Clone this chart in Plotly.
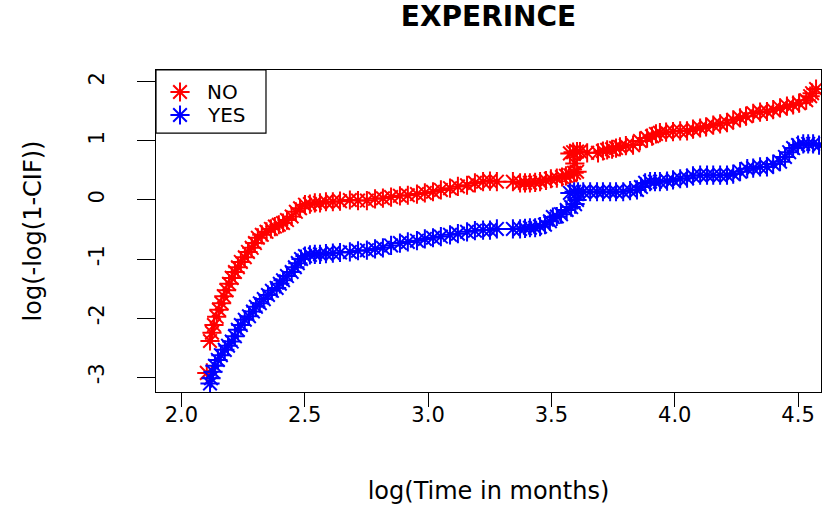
import plotly.graph_objects as go

# ---- data ----
no_x = [2.103, 2.116, 2.124, 2.132, 2.143, 2.152, 2.163, 2.172, 2.183, 2.193,
        2.204, 2.217, 2.229, 2.241, 2.257, 2.270, 2.285, 2.298, 2.310, 2.326,
        2.345, 2.363, 2.379, 2.395, 2.412, 2.428, 2.447, 2.464, 2.481, 2.501,
        2.521, 2.541, 2.562, 2.586, 2.614, 2.643, 2.683, 2.716, 2.752, 2.785,
        2.817, 2.850, 2.886, 2.918, 2.955, 2.987, 3.020, 3.052, 3.089, 3.121,
        3.158, 3.190, 3.223, 3.251, 3.279, 3.344, 3.373, 3.393, 3.413, 3.434,
        3.454, 3.478, 3.498, 3.522, 3.543, 3.559, 3.576, 3.592, 3.604, 3.595,
        3.575, 3.588, 3.604, 3.616, 3.645, 3.689, 3.709, 3.726, 3.746, 3.762,
        3.778, 3.802, 3.831, 3.859, 3.888, 3.908, 3.924, 3.940, 3.965, 3.993,
        4.022, 4.050, 4.074, 4.103, 4.127, 4.156, 4.184, 4.212, 4.237, 4.265,
        4.289, 4.318, 4.346, 4.374, 4.399, 4.427, 4.455, 4.480, 4.504, 4.533,
        4.549, 4.557, 4.573]
no_y = [-2.93, -2.39, -2.25, -2.12, -1.98, -1.86, -1.75, -1.63, -1.53, -1.42,
        -1.32, -1.22, -1.14, -1.05, -0.97, -0.88, -0.81, -0.73, -0.64, -0.59,
        -0.54, -0.49, -0.45, -0.42, -0.39, -0.34, -0.28, -0.20, -0.14, -0.08,
        -0.07, -0.05, -0.05, -0.03, -0.03, -0.02, 0.00, -0.01, -0.01, 0.02,
        0.03, 0.05, 0.07, 0.08, 0.10, 0.12, 0.14, 0.17, 0.20, 0.23,
        0.25, 0.29, 0.31, 0.32, 0.31, 0.31, 0.29, 0.29, 0.29, 0.30,
        0.31, 0.33, 0.36, 0.37, 0.39, 0.41, 0.42, 0.46, 0.48, 0.62,
        0.79, 0.81, 0.82, 0.82, 0.80, 0.80, 0.83, 0.85, 0.86, 0.88,
        0.90, 0.92, 0.93, 1.00, 1.05, 1.08, 1.12, 1.14, 1.15, 1.16,
        1.17, 1.17, 1.20, 1.22, 1.24, 1.27, 1.29, 1.31, 1.36, 1.39,
        1.42, 1.47, 1.49, 1.50, 1.53, 1.56, 1.59, 1.61, 1.64, 1.69,
        1.76, 1.81, 1.88]

yes_x = [2.116, 2.120, 2.128, 2.136, 2.148, 2.160, 2.176, 2.189, 2.204, 2.217,
         2.229, 2.241, 2.257, 2.274, 2.290, 2.302, 2.318, 2.334, 2.351, 2.367,
         2.386, 2.399, 2.412, 2.428, 2.447, 2.460, 2.472, 2.485, 2.501, 2.521,
         2.541, 2.562, 2.586, 2.614, 2.643, 2.683, 2.716, 2.752, 2.785, 2.817,
         2.850, 2.886, 2.918, 2.955, 2.987, 3.020, 3.052, 3.089, 3.121, 3.158,
         3.190, 3.223, 3.251, 3.279, 3.344, 3.373, 3.393, 3.413, 3.434, 3.454,
         3.474, 3.494, 3.506, 3.522, 3.539, 3.562, 3.580, 3.596, 3.604, 3.575,
         3.592, 3.608, 3.629, 3.657, 3.685, 3.709, 3.738, 3.762, 3.791, 3.819,
         3.847, 3.863, 3.880, 3.900, 3.920, 3.940, 3.969, 3.993, 4.022, 4.050,
         4.074, 4.103, 4.131, 4.156, 4.184, 4.212, 4.237, 4.265, 4.294, 4.318,
         4.346, 4.374, 4.399, 4.427, 4.447, 4.464, 4.480, 4.500, 4.521, 4.541,
         4.561, 4.585]
yes_y = [-3.11, -3.02, -2.91, -2.81, -2.71, -2.63, -2.54, -2.47, -2.40, -2.31,
         -2.20, -2.12, -2.03, -1.97, -1.89, -1.81, -1.75, -1.68, -1.61, -1.54,
         -1.49, -1.42, -1.36, -1.29, -1.22, -1.14, -1.07, -1.00, -0.95, -0.93,
         -0.92, -0.92, -0.91, -0.90, -0.89, -0.88, -0.86, -0.85, -0.83, -0.81,
         -0.77, -0.73, -0.71, -0.69, -0.66, -0.64, -0.62, -0.59, -0.57, -0.54,
         -0.52, -0.51, -0.51, -0.49, -0.49, -0.49, -0.48, -0.47, -0.47, -0.45,
         -0.42, -0.36, -0.29, -0.28, -0.24, -0.17, -0.12, -0.07, 0.00, 0.12,
         0.14, 0.14, 0.14, 0.14, 0.14, 0.14, 0.14, 0.14, 0.14, 0.16,
         0.17, 0.22, 0.29, 0.31, 0.31, 0.31, 0.32, 0.34, 0.36, 0.37,
         0.41, 0.42, 0.42, 0.42, 0.42, 0.42, 0.44, 0.48, 0.53, 0.54,
         0.56, 0.56, 0.61, 0.65, 0.73, 0.81, 0.88, 0.93, 0.95, 0.95,
         0.95, 0.93]

series_names = ["NO", "YES"]
series_colors = ["#ff0000", "#0000ff"]

x_ticks = [2.0, 2.5, 3.0, 3.5, 4.0, 4.5]
x_tick_labels = ["2.0", "2.5", "3.0", "3.5", "4.0", "4.5"]
y_ticks = [-3, -2, -1, 0, 1, 2]
y_tick_labels = ["-3", "-2", "-1", "0", "1", "2"]

FONT = "DejaVu Sans"
MARKER_SIZE = 16
MARKER_LW = 2.0

fig = go.Figure()
for name, xs, ys, col in zip(series_names, [no_x, yes_x], [no_y, yes_y], series_colors):
    fig.add_trace(go.Scatter(
        x=xs, y=ys, mode="markers", name=name, showlegend=False,
        marker=dict(symbol="asterisk-open", size=MARKER_SIZE, color=col,
                    line=dict(color=col, width=MARKER_LW)),
    ))

# ---- R-style legend box, placed in axis-domain fractions ----
leg_x0, leg_x1, leg_y0, leg_y1 = 0.0, 0.1654, 0.804, 1.0
key_x, text_x = 0.0361, 0.0737
row_y = [0.9317, 0.8602]
fig.add_shape(type="rect", xref="x domain", yref="y domain",
              x0=leg_x0, x1=leg_x1, y0=leg_y0, y1=leg_y1,
              line=dict(color="black", width=1.2), fillcolor="white", layer="below")
fig.add_trace(go.Scatter(
    x=[key_x, key_x], y=row_y, xaxis="x2", yaxis="y2", mode="markers",
    showlegend=False, hoverinfo="skip",
    marker=dict(symbol="asterisk-open", size=MARKER_SIZE, color=series_colors,
                line=dict(color=series_colors, width=MARKER_LW)),
))
for name, yy in zip(series_names, row_y):
    fig.add_annotation(text=name, xref="x domain", yref="y domain",
                       x=text_x, y=yy, xanchor="left", yanchor="middle",
                       showarrow=False,
                       font=dict(family=FONT, size=20, color="black"))

axis_common = dict(showgrid=False, zeroline=False, showline=True, mirror=True,
                   linecolor="black", linewidth=1.2, ticks="outside",
                   tickcolor="black", tickwidth=1.2, automargin=False,
                   tickfont=dict(family=FONT, size=21, color="black"))

fig.update_layout(
    width=822, height=510,
    margin=dict(l=156, r=1, t=70, b=118),
    paper_bgcolor="white", plot_bgcolor="white",
    title=dict(text="<b>EXPERINCE</b>", x=0.5, xref="paper", xanchor="center",
               y=1 - 16 / 510, yref="container", yanchor="middle",
               font=dict(family=FONT, size=28, color="black"), automargin=False),
    xaxis=dict(range=[1.897, 4.593], tickvals=x_ticks, ticktext=x_tick_labels,
               ticklen=14, ticklabelstandoff=-10,
               title=dict(text="log(Time in months)", standoff=55,
                          font=dict(family=FONT, size=24, color="black")),
               **axis_common),
    yaxis=dict(range=[-3.254, 2.203], tickvals=y_ticks, ticktext=y_tick_labels,
               ticklen=18, tickangle=-90, ticklabelstandoff=25,
               title=dict(text="log(-log(1-CIF))", standoff=36,
                          font=dict(family=FONT, size=24, color="black")),
               **axis_common),
    xaxis2=dict(overlaying="x", range=[0, 1], visible=False, fixedrange=True),
    yaxis2=dict(overlaying="y", range=[0, 1], visible=False, fixedrange=True),
    showlegend=False,
)

fig.write_html("out.html", config={"displayModeBar": False},
               post_script="document.body.style.margin='0px';")
